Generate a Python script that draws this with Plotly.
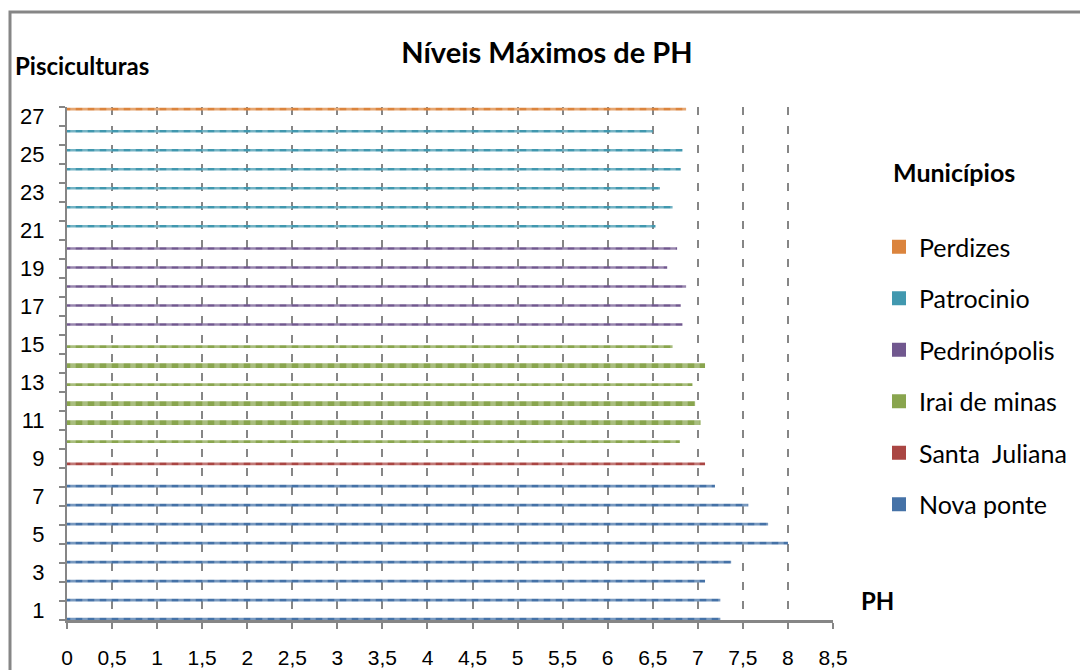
import plotly.graph_objects as go

# ---- data ----
municipios = ["Nova ponte", "Santa  Juliana", "Irai de minas", "Pedrinópolis", "Patrocinio", "Perdizes"]

nova_ponte_ids = [1, 2, 3, 4, 5, 6, 7, 8]
nova_ponte_ph = [7.25, 7.25, 7.08, 7.37, 8.0, 7.78, 7.56, 7.19]
santa_juliana_ids = [9]
santa_juliana_ph = [7.08]
irai_ids = [10, 11, 12, 13, 14, 15]
irai_ph = [6.80, 7.03, 6.97, 6.94, 7.08, 6.72]
pedrinopolis_ids = [16, 17, 18, 19, 20]
pedrinopolis_ph = [6.83, 6.81, 6.87, 6.66, 6.77]
patrocinio_ids = [21, 22, 23, 24, 25, 26]
patrocinio_ph = [6.53, 6.72, 6.58, 6.81, 6.83, 6.50]
perdizes_ids = [27]
perdizes_ph = [6.87]

x_ticks = [0, 0.5, 1, 1.5, 2, 2.5, 3, 3.5, 4, 4.5, 5, 5.5, 6, 6.5, 7, 7.5, 8, 8.5]
y_ticks = [1, 3, 5, 7, 9, 11, 13, 15, 17, 19, 21, 23, 25, 27]

series = [
    (nova_ponte_ids, nova_ponte_ph),
    (santa_juliana_ids, santa_juliana_ph),
    (irai_ids, irai_ph),
    (pedrinopolis_ids, pedrinopolis_ph),
    (patrocinio_ids, patrocinio_ph),
    (perdizes_ids, perdizes_ph),
]

# ---- styles ----
colors = ["#4572A7", "#AA4643", "#89A54E", "#71588F", "#4198AF", "#DB843D"]
slot_centers = [-0.45, -0.282, -0.114, 0.054, 0.222, 0.39]   # offset within category band
thin_w = 0.14
thick_w = 0.25
irai_widths = [thin_w, thick_w, thick_w, thin_w, thick_w, thin_w]

W, H = 1080, 670
L, R, T, B = 67, 247, 107, 50
pw, ph_ = W - L - R, H - T - B

def px_to_paper_x(px):
    return (px - L) / pw

def px_to_paper_y(py):
    return (H - B - py) / ph_

TICK_FONT = "Liberation Sans, Arial, sans-serif"
TEXT_FONT = "Lato, Open Sans, sans-serif"

fig = go.Figure()
for i, (name, color, (ids, vals)) in enumerate(zip(municipios, colors, series)):
    if i == 2:
        widths = irai_widths
    else:
        widths = [thin_w] * len(ids)
    offsets = [slot_centers[i] - w / 2 for w in widths]
    fig.add_trace(go.Bar(
        name=name, y=ids, x=vals, orientation="h",
        width=widths, offset=offsets,
        marker=dict(color=color, line=dict(width=0),
                    pattern=dict(shape="|", fgcolor="rgba(255,255,255,0.55)", size=12, solidity=0.45)),
        legendgroup=name, showlegend=False,
    ))
    # legend entry (solid square key, as in the original)
    fig.add_trace(go.Scatter(
        name=name, x=[None], y=[None], mode="markers",
        marker=dict(symbol="square", size=14, color=color),
        legendgroup=name, legendrank=100 - i, showlegend=True,
    ))

fig.update_layout(
    width=W, height=H,
    margin=dict(l=L, r=R, t=T, b=B, autoexpand=False),
    paper_bgcolor="white", plot_bgcolor="white",
    barmode="overlay",
    separators=",.",
    title=dict(text="<b>Níveis Máximos de PH</b>", x=547 / W, xanchor="center",
               y=1 - 53 / H, yanchor="middle",
               font=dict(family=TEXT_FONT, size=29, color="black")),
    xaxis=dict(range=[0, 8.5], tickvals=x_ticks, ticks="outside", ticklen=6,
               tickcolor="#868686", tickwidth=1.5, automargin=False,
               showline=True, linecolor="#868686", linewidth=3,
               showgrid=True, gridcolor="#868686", griddash="8px,11px", gridwidth=2,
               zeroline=False, ticklabelstandoff=11,
               tickfont=dict(family=TICK_FONT, size=21, color="black")),
    yaxis=dict(range=[0.5, 27.5], tickvals=y_ticks, ticks="", automargin=False,
               showline=True, linecolor="#868686", linewidth=2,
               showgrid=False, zeroline=False, ticklabelstandoff=16,
               minor=dict(tick0=0.5, dtick=1, ticks="outside", ticklen=6,
                          tickcolor="#868686", tickwidth=1.5, showgrid=False),
               tickfont=dict(family=TICK_FONT, size=22, color="black")),
    legend=dict(x=px_to_paper_x(879), xanchor="left",
                y=px_to_paper_y(224), yanchor="top", tracegroupgap=16,
                font=dict(family=TEXT_FONT, size=25, color="black"),
                bgcolor="rgba(0,0,0,0)"),
    showlegend=True,
)

fig.add_annotation(text="<b>Pisciculturas</b>", x=px_to_paper_x(82), y=px_to_paper_y(66),
                   xref="paper", yref="paper", showarrow=False, xanchor="center", yanchor="middle",
                   font=dict(family=TEXT_FONT, size=24, color="black"))
fig.add_annotation(text="<b>Municípios</b>", x=px_to_paper_x(954), y=px_to_paper_y(172),
                   xref="paper", yref="paper", showarrow=False, xanchor="center", yanchor="middle",
                   font=dict(family=TEXT_FONT, size=25, color="black"))
fig.add_annotation(text="<b>PH</b>", x=px_to_paper_x(878), y=px_to_paper_y(600),
                   xref="paper", yref="paper", showarrow=False, xanchor="center", yanchor="middle",
                   font=dict(family=TEXT_FONT, size=24, color="black"))

# outer chart frame (cropped at right and bottom)
fig.add_shape(type="rect", xref="paper", yref="paper",
              x0=px_to_paper_x(10), x1=px_to_paper_x(1100),
              y0=px_to_paper_y(700), y1=px_to_paper_y(12),
              line=dict(color="#868686", width=3), fillcolor="rgba(0,0,0,0)", layer="below")

fig.write_html("out.html")
